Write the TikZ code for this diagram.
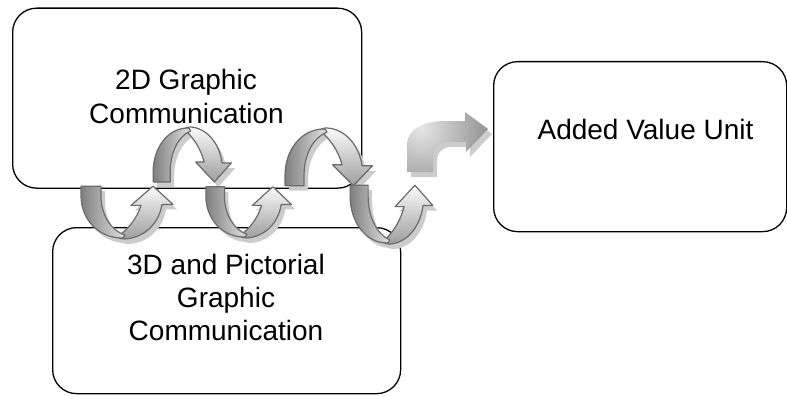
\documentclass[tikz,border=0pt]{standalone}
\usepackage{fontspec}
\setmainfont{Liberation Sans}

% Front (plain) arm of a ribbon loop, apex at the origin, arm rising to y=-54
\newcommand\loopfront[1]{\path[#1] (-41,-54) -- (-21,-54) -- (-21,-44)
  .. controls (-21,-24) and (-11,-8) .. (3,-3)
  .. controls (2,-0.5) .. (0,0)
  .. controls (-24,0) and (-41,-20) .. (-41,-44) -- cycle;}
% Back arm of the loop, ending in the arrow head
\newcommand\loopback[1]{\path[#1] (-5,-1)
  .. controls (5,-8) and (15,-20) .. (19,-34) -- (9,-34) -- (31,-54)
  -- (51,-35) -- (40,-35)
  .. controls (37,-15) and (22,0) .. (3,1)
  .. controls (0,1) .. (-5,-1) -- cycle;}
% Loop placed at its apex (#1,#2), scaled by #3,#4
\newcommand\ribbonloop[4]{%
  \begin{scope}[shift={(#1,#2)},xscale=#3,yscale=#4]
    \loopback{backarm}
    \loopfront{frontarm}
  \end{scope}}
\newcommand\ribbonshadow[4]{%
  \begin{scope}[shift={(#1+4,#2+5)},xscale=#3,yscale=#4]
    \loopback{shadowfill}
    \loopfront{shadowfill}
  \end{scope}}
% Bent arrow leading to the last box
\newcommand\bentarrow[1]{\path[#1] (407,172) -- (407,145)
  .. controls (407,129) and (424,121) .. (445,121) -- (465,121) -- (465,112)
  -- (488,129) -- (466,152) -- (466,142) -- (447,142)
  .. controls (439,142) and (433,147) .. (433,156) -- (433,172) -- cycle;}

\begin{document}
\begin{tikzpicture}[x=1pt,y=-1pt,
  box/.style={draw=black, line width=1.3pt, rounded corners=24pt, fill=white,
    anchor=north west, inner sep=0pt},
  lbl/.style={font=\fontsize{28}{33.5}\selectfont, anchor=base, inner sep=0pt},
  rim/.style={draw=black!58, line width=1.2pt, line join=round},
  frontarm/.style={rim, left color=black!50, right color=black!12},
  backarm/.style={rim, top color=black!2, bottom color=black!38},
  shadowfill/.style={fill=black!20}]

\useasboundingbox (0,0) rectangle (787,396);

% boxes
\node[box, minimum width=349pt, minimum height=180pt] (twoD) at (12,7.5) {};
\node[box, minimum width=348pt, minimum height=166pt] (threeD) at (52,227) {};
\node[box, minimum width=293pt, minimum height=170pt] (added) at (493,61) {};

% labels
\node[lbl] (twoDa) at (186,89.3) {2D Graphic};
\node[lbl] (twoDb) at (186.5,123.3) {Communication};
\node[lbl] (threeDa) at (226,274) {3D and Pictorial};
\node[lbl] (threeDb) at (226,307) {Graphic};
\node[lbl] (threeDc) at (226,340) {Communication};
\node[lbl] (avu) at (645.5,139.5) {Added Value Unit};

% shadows of the ribbon arrows
\ribbonshadow{122}{238}{1}{0.96}
\ribbonshadow{188}{128}{0.85}{-1}
\ribbonshadow{244}{237}{0.93}{0.93}
\ribbonshadow{324}{129}{0.95}{-1.05}
\ribbonshadow{387}{243}{0.9}{1.07}
\begin{scope}[shift={(4,5)}]
  \bentarrow{shadowfill}
\end{scope}

% ribbon arrows
\ribbonloop{122}{238}{1}{0.96}
\ribbonloop{188}{128}{0.85}{-1}
\ribbonloop{244}{237}{0.93}{0.93}
\ribbonloop{324}{129}{0.95}{-1.05}
\ribbonloop{387}{243}{0.9}{1.07}

% bent arrow with a radial highlight on its bend
\begin{scope}
  \bentarrow{clip}
  \shade[inner color=black!10, outer color=black!56] (421,128) circle (95);
\end{scope}
\end{tikzpicture}
\end{document}
